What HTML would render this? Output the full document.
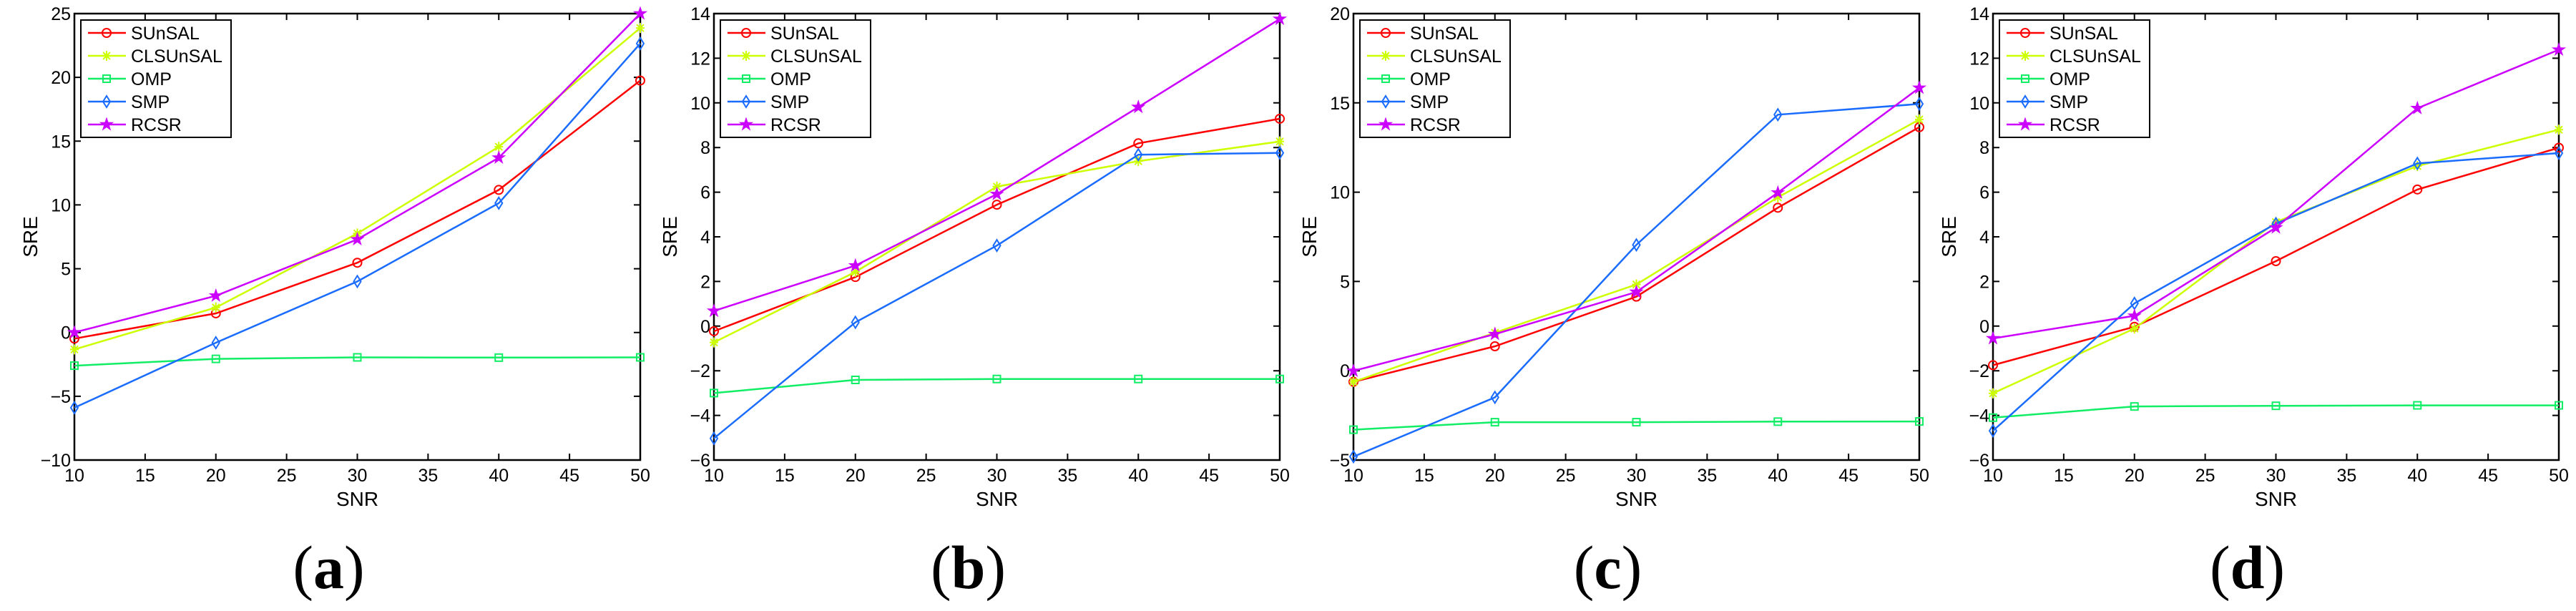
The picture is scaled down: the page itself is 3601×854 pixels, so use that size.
<!DOCTYPE html>
<html><head><meta charset="utf-8">
<style>
html,body{margin:0;padding:0;background:#fff;}
svg{display:block;}
text{font-family:"Liberation Sans",sans-serif;fill:#000;}
</style></head>
<body>
<svg id="fig" width="3601" height="854" viewBox="0 0 3601 854" xmlns="http://www.w3.org/2000/svg"></svg>
<script>
const snr = [10, 20, 30, 40, 50];
const seriesNames = ["SUnSAL", "CLSUnSAL", "OMP", "SMP", "RCSR"];
const panelLabels = ["(a)", "(b)", "(c)", "(d)"];
const xTicks = [10, 15, 20, 25, 30, 35, 40, 45, 50];
const yTicksA = [-10, -5, 0, 5, 10, 15, 20, 25];
const yTicksB = [-6, -4, -2, 0, 2, 4, 6, 8, 10, 12, 14];
const yTicksC = [-5, 0, 5, 10, 15, 20];
const yTicksD = [-6, -4, -2, 0, 2, 4, 6, 8, 10, 12, 14];
// panel (a)
const a_sunsal = [-0.48, 1.5, 5.47, 11.18, 19.75];
const a_clsunsal = [-1.33, 1.96, 7.76, 14.56, 23.87];
const a_omp = [-2.6, -2.07, -1.95, -1.97, -1.95];
const a_smp = [-5.9, -0.8, 4.0, 10.14, 22.65];
const a_rcsr = [0.0, 2.88, 7.3, 13.7, 25.0];
// panel (b)
const b_sunsal = [-0.23, 2.2, 5.44, 8.19, 9.29];
const b_clsunsal = [-0.73, 2.43, 6.25, 7.39, 8.27];
const b_omp = [-3.0, -2.41, -2.37, -2.37, -2.37];
const b_smp = [-5.03, 0.17, 3.61, 7.68, 7.76];
const b_rcsr = [0.68, 2.71, 5.91, 9.81, 13.76];
// panel (c)
const c_sunsal = [-0.62, 1.37, 4.15, 9.13, 13.64];
const c_clsunsal = [-0.62, 2.13, 4.83, 9.71, 14.07];
const c_omp = [-3.3, -2.88, -2.88, -2.85, -2.84];
const c_smp = [-4.81, -1.49, 7.05, 14.34, 14.94];
const c_rcsr = [-0.01, 2.05, 4.41, 9.97, 15.84];
// panel (d)
const d_sunsal = [-1.75, -0.03, 2.91, 6.12, 7.99];
const d_clsunsal = [-3.01, -0.11, 4.66, 7.17, 8.8];
const d_omp = [-4.1, -3.6, -3.57, -3.55, -3.55];
const d_smp = [-4.69, 1.02, 4.59, 7.29, 7.75];
const d_rcsr = [-0.55, 0.46, 4.41, 9.76, 12.38];

const colors = ["#ff0000", "#ccff00", "#11ee66", "#1a6cff", "#cc00ff"];
const markers = ["circle", "asterisk", "square", "diamond", "star"];
const NS = "http://www.w3.org/2000/svg";
const svg = document.getElementById("fig");
function mk(tag, attrs, parent) {
  const e = document.createElementNS(NS, tag);
  for (const k in attrs) e.setAttribute(k, attrs[k]);
  (parent || svg).appendChild(e);
  return e;
}
const panels = [
  {left:104, yt:yTicksA, data:[a_sunsal,a_clsunsal,a_omp,a_smp,a_rcsr]},
  {left:998, yt:yTicksB, data:[b_sunsal,b_clsunsal,b_omp,b_smp,b_rcsr]},
  {left:1892, yt:yTicksC, data:[c_sunsal,c_clsunsal,c_omp,c_smp,c_rcsr]},
  {left:2786, yt:yTicksD, data:[d_sunsal,d_clsunsal,d_omp,d_smp,d_rcsr]}
];
const TOP = 19, BOT = 643, W = 791;

function drawMarker(g, type, x, y, col) {
  let m;
  if (type === "circle") m = mk("circle", {cx:x, cy:y, r:6, fill:"none", stroke:col, "stroke-width":2}, g);
  else if (type === "square") m = mk("rect", {x:x-5, y:y-5, width:10, height:10, fill:"none", stroke:col, "stroke-width":2}, g);
  else if (type === "diamond") m = mk("polygon", {points:`${x},${y-8} ${x+5},${y} ${x},${y+8} ${x-5},${y}`, fill:"none", stroke:col, "stroke-width":2}, g);
  else if (type === "asterisk") m = mk("path", {d:`M${x-6},${y}H${x+6}M${x},${y-7}V${y+7}M${x-5},${y-5}L${x+5},${y+5}M${x-5},${y+5}L${x+5},${y-5}`, stroke:col, "stroke-width":2, fill:"none"}, g);
  else {
    let pts = [];
    for (let i = 0; i < 10; i++) {
      const r = i % 2 ? 3.5 : 9, ang = -Math.PI/2 + i*Math.PI/5;
      pts.push((x + r*Math.cos(ang)).toFixed(1) + "," + (y + r*Math.sin(ang)).toFixed(1));
    }
    m = mk("polygon", {points:pts.join(" "), fill:col, stroke:col, "stroke-width":1}, g);
  }
  
  
}

panels.forEach((p, pi) => {
  const L = p.left, R = L + W;
  const ymin = p.yt[0], ymax = p.yt[p.yt.length-1];
  const sx = v => L + (v - 10) / 40 * W;
  const sy = v => BOT - (v - ymin) / (ymax - ymin) * (BOT - TOP);
  const g = mk("g", {});
  
  
  // ticks
  xTicks.forEach(t => {
    const x = sx(t);
    mk("path", {d:`M${x},${BOT}V${BOT-9}M${x},${TOP}V${TOP+9}`, stroke:"#000", "stroke-width":2}, g);
    const tx = mk("text", {x:x, y:673, "font-size":25, "text-anchor":"middle"}, g);
    tx.textContent = t;
    
    
  });
  p.yt.forEach(t => {
    const y = sy(t);
    mk("path", {d:`M${L},${y}H${L+9}M${R},${y}H${R-9}`, stroke:"#000", "stroke-width":2}, g);
    const ty = mk("text", {x:L-5, y:y+9, "font-size":25, "text-anchor":"end"}, g);
    ty.textContent = t < 0 ? "\u2212" + (-t) : t;
    
    
  });
  const box = mk("rect", {x:L, y:TOP, width:W, height:BOT-TOP, fill:"none", stroke:"#000", "stroke-width":2.5}, g);
  
  
  // series
  p.data.forEach((vals, si) => {
    const sg = mk("g", {}, g);
    
    
    const pts = vals.map((v, i) => sx(snr[i]).toFixed(1) + "," + sy(v).toFixed(1)).join(" ");
    const pl = mk("polyline", {points:pts, fill:"none", stroke:colors[si], "stroke-width":2.5}, sg);
    
    
    vals.forEach((v, i) => drawMarker(sg, markers[si], sx(snr[i]), sy(v), colors[si]));
  });
  // legend
  const lg = mk("g", {}, g);
  
  
  mk("rect", {x:L+9, y:28, width:210, height:164, fill:"#fff", stroke:"#000", "stroke-width":2}, lg);
  seriesNames.forEach((n, si) => {
    const y = 46 + si * 32;
    const eg = mk("g", {}, lg);
    
    
    mk("line", {x1:L+19, x2:L+72, y1:y, y2:y, stroke:colors[si], "stroke-width":2.5}, eg);
    drawMarker(eg, markers[si], L+45, y, colors[si]);
    const t = mk("text", {x:L+79, y:y+9, "font-size":25}, eg);
    t.textContent = n;
  });
  // axis titles
  const xl = mk("text", {x:(L+R)/2, y:707, "font-size":28, "text-anchor":"middle"}, g);
  xl.textContent = "SNR";
  
  
  const yl = mk("text", {x:0, y:0, "font-size":28, "text-anchor":"middle", transform:`translate(${L-52},${(TOP+BOT)/2}) rotate(-90)`}, g);
  yl.textContent = "SRE";
  
  
  const pl = mk("text", {x:(L+R)/2 - 40, y:822, "font-size":86, "text-anchor":"middle", style:"font-family:'Liberation Serif',serif;font-weight:bold"}, g);
  pl.innerHTML = '<tspan font-weight="normal">(</tspan>' + panelLabels[pi].slice(1,2) + '<tspan font-weight="normal">)</tspan>';
  
  
});
</script>
</body></html>
